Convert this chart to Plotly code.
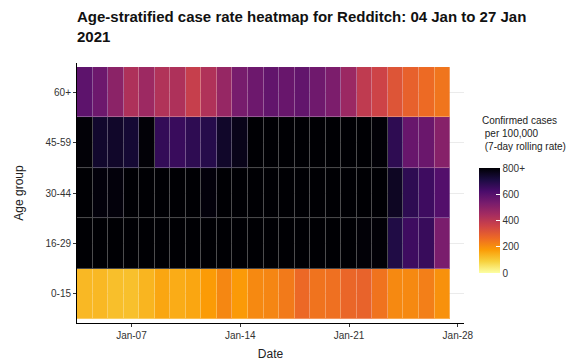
import pandas as pd
import plotly.graph_objects as go
import plotly.colors as pc

# ---- data ----
dates = pd.date_range("2021-01-04", "2021-01-27", freq="D").strftime("%Y-%m-%d").tolist()
age_groups = ["0-15", "16-29", "30-44", "45-59", "60+"]

rate_0_15 = [130, 130, 118, 117, 135, 160, 150, 160, 178, 213, 180, 210,
             215, 236, 270, 248, 255, 275, 282, 248, 210, 210, 228, 195]
rate_16_29 = [900, 920, 930, 950, 960, 980, 990, 1000, 990, 980, 960, 950,
              940, 930, 900, 880, 860, 840, 795, 795, 702, 645, 656, 530]
rate_30_44 = [820, 790, 790, 830, 850, 880, 900, 870, 790, 830, 860, 880,
              900, 900, 880, 870, 850, 830, 820, 810, 755, 675, 645, 605]
rate_45_59 = [795, 740, 745, 730, 795, 665, 655, 675, 690, 745, 770, 800,
              850, 880, 900, 910, 890, 870, 840, 795, 675, 565, 560, 505]
rate_60p = [585, 555, 495, 425, 460, 420, 425, 375, 422, 475, 535, 555,
            575, 565, 575, 550, 525, 465, 390, 360, 315, 285, 265, 245]

z = [rate_0_15, rate_16_29, rate_30_44, rate_45_59, rate_60p]

cbar_ticks = [0, 200, 400, 600, 800]
cbar_text = ["0", "200", "400", "600", "800+"]

# ---- styling ----
inferno = pc.sequential.Inferno
n = len(inferno)
cscale = [[i / (n - 1), c] for i, c in enumerate(reversed(inferno))]

# page has an 8px body margin; figure sized to fit the 585x362 window
OFF = 8
W, H = 585 - OFF, 362 - OFF
ml, mr, mt, mb = 77 - OFF, 121, 63 - OFF, 39
pw, ph = W - ml - mr, H - mt - mb
FONT = "Liberation Sans, Arial, sans-serif"

def px_x(page_x):
    return (page_x - OFF - ml) / pw

def px_y(page_y):
    return (mt + ph - (page_y - OFF)) / ph

fig = go.Figure()
# underlay (shows through the tile gaps as semi-transparent white borders)
fig.add_trace(go.Heatmap(
    x=dates, y=age_groups, z=z, zmin=0, zmax=800, colorscale=cscale,
    showscale=False, opacity=0.7, hoverinfo="skip"))
fig.add_trace(go.Heatmap(
    x=dates, y=age_groups, z=z, zmin=0, zmax=800, colorscale=cscale,
    xgap=1, ygap=1,
    colorbar=dict(
        x=px_x(479), xanchor="left", xpad=0,
        y=px_y(273), yanchor="bottom", ypad=0,
        len=105, lenmode="pixels", thickness=21,
        outlinewidth=0,
        tickvals=cbar_ticks, ticktext=cbar_text,
        ticks="inside", ticklen=4, tickcolor="white",
        tickfont=dict(size=10, color="#333", family=FONT),
    )))

fig.add_annotation(
    text="Confirmed cases<br>\u00a0per 100,000<br>\u00a0(7-day rolling rate)",
    xref="paper", yref="paper", x=px_x(480), y=px_y(113),
    xanchor="left", yanchor="top", align="left", showarrow=False,
    font=dict(size=10, color="#222", family=FONT))

fig.update_layout(
    width=W, height=H,
    margin=dict(l=ml, r=mr, t=mt, b=mb, autoexpand=False),
    paper_bgcolor="white", plot_bgcolor="white",
    font=dict(family=FONT, color="#222"),
    title=dict(text="<b>Age-stratified case rate heatmap for Redditch: 04 Jan to 27 Jan<br>2021</b>",
               x=ml / W, xanchor="left", y=1 - 14 / H, yanchor="top",
               font=dict(size=15, color="#111", family=FONT)),
)
fig.update_xaxes(
    type="date", range=["2021-01-03 12:00", "2021-01-28 09:30"],
    tickvals=["2021-01-07", "2021-01-14", "2021-01-21", "2021-01-28"],
    tickformat="%b-%d", automargin=False,
    ticks="outside", ticklen=3, tickcolor="#333",
    showline=True, linecolor="black", linewidth=1,
    showgrid=False, zeroline=False,
    tickfont=dict(size=10, color="#333"),
    title=dict(text="Date", font=dict(size=12, color="#222"), standoff=9),
)
fig.update_yaxes(
    type="category", categoryorder="array", categoryarray=age_groups,
    range=[-0.58, 4.58], automargin=False,
    ticks="outside", ticklen=3, tickcolor="#333",
    showline=True, linecolor="black", linewidth=1,
    showgrid=True, gridcolor="#ebebeb", zeroline=False,
    tickfont=dict(size=10, color="#333"),
    title=dict(text="Age group", font=dict(size=12, color="#222"), standoff=19),
)

fig.write_html("out.html")
